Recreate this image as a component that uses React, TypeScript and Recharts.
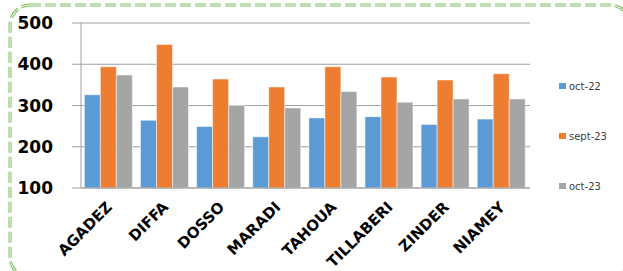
import React from 'react';
import { BarChart, Bar, XAxis, YAxis, CartesianGrid, Legend } from 'recharts';

const regions = ['AGADEZ', 'DIFFA', 'DOSSO', 'MARADI', 'TAHOUA', 'TILLABERI', 'ZINDER', 'NIAMEY'];
const oct22 = [326, 264, 249, 224, 270, 273, 254, 267];
const sept23 = [394, 448, 364, 345, 394, 369, 362, 377];
const oct23 = [374, 345, 300, 294, 334, 308, 316, 316];
const yTicks = [100, 200, 300, 400, 500];

const SERIES = [
  { key: 'oct22', name: 'oct-22', color: '#5B9BD5' },
  { key: 'sept23', name: 'sept-23', color: '#ED7D31' },
  { key: 'oct23', name: 'oct-23', color: '#A5A5A5' },
];

const data = regions.map((region, i) => ({
  region,
  oct22: oct22[i],
  sept23: sept23[i],
  oct23: oct23[i],
}));

const XTick = (props: any) => {
  const { x, y, payload } = props;
  return (
    <g transform={`translate(${x},${y})`}>
      <text
        x={4}
        y={12}
        textAnchor="end"
        transform="rotate(-45 4 12)"
        fontFamily="DejaVu Sans"
        fontWeight="bold"
        fontSize={15}
        fill="#000"
      >
        {payload.value}
      </text>
    </g>
  );
};

const LegendBox = () => (
  <div style={{ fontFamily: 'DejaVu Sans', fontSize: 10, color: '#404040' }}>
    {SERIES.map((s) => (
      <div key={s.key} style={{ height: 50, display: 'flex', alignItems: 'center' }}>
        <span style={{ width: 7, height: 6, background: s.color, marginRight: 3, display: 'inline-block' }} />
        {s.name}
      </div>
    ))}
  </div>
);

const App: React.FC = () => {
  return (
    <div style={{ position: 'absolute', left: 0, top: 0, width: 623, height: 271, background: '#fff', overflow: 'hidden' }}>
      <svg width={623} height={271} style={{ position: 'absolute', left: 0, top: 0 }}>
        <rect x={10} y={5} width={620} height={272} rx={20} fill="none" stroke="#7DBE5C" strokeWidth={3} strokeDasharray="11 4" />
        <rect x={10} y={5} width={620} height={272} rx={20} fill="none" stroke="#fff" strokeWidth={1} strokeDasharray="11 4" />
      </svg>
      <div style={{ position: 'absolute', left: 0, top: 0 }}>
        <BarChart
          width={623}
          height={271}
          data={data}
          margin={{ top: 23, right: 29, bottom: 0, left: 0 }}
          barCategoryGap="6%"
          barGap={0}
        >
          <CartesianGrid vertical={false} stroke="#A0A0A0" />
          <XAxis
            dataKey="region"
            axisLine={{ stroke: '#A0A0A0' }}
            tickLine={false}
            interval={0}
            tick={<XTick />}
            height={83}
          />
          <YAxis
            domain={[100, 500]}
            ticks={yTicks}
            interval={0}
            width={81}
            axisLine={{ stroke: '#A0A0A0' }}
            tickLine={{ stroke: '#A0A0A0' }}
            tickSize={9}
            tickMargin={19}
            tick={{ fontFamily: 'DejaVu Sans', fontWeight: 'bold', fontSize: 17, fill: '#000' }}
          />
          <Legend
            layout="horizontal"
            verticalAlign="middle"
            align="right"
            content={<LegendBox />}
            wrapperStyle={{ left: 559, top: 61, width: 64 }}
          />
          {SERIES.map((s) => (
            <Bar
              key={s.key}
              dataKey={s.key}
              name={s.name}
              fill={s.color}
              stroke="#fff"
              strokeWidth={0.5}
              isAnimationActive={false}
            />
          ))}
        </BarChart>
      </div>
    </div>
  );
};

export default App;
